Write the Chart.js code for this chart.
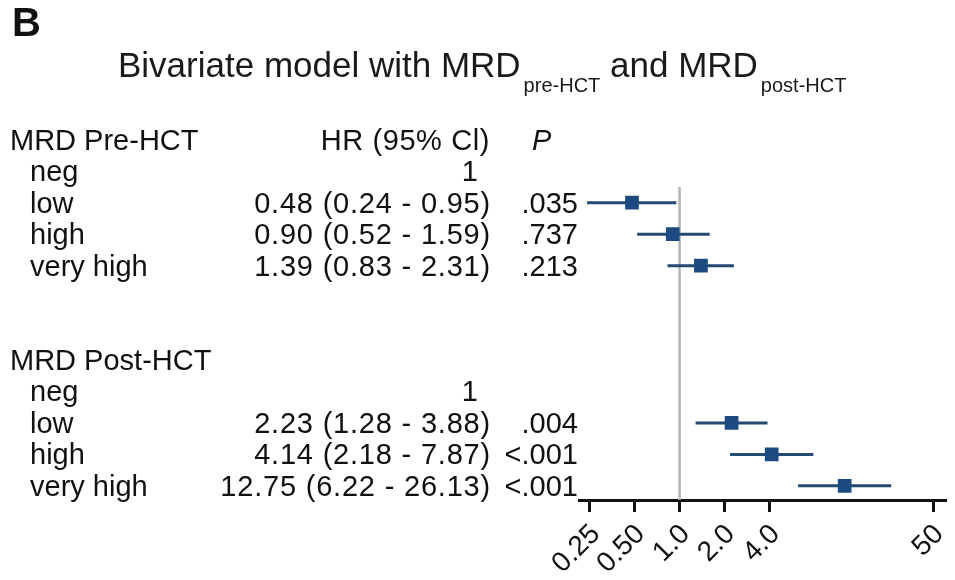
<!DOCTYPE html>
<html>
<head>
<meta charset="utf-8">
<script src="https://cdn.jsdelivr.net/npm/chart.js@4"></script>
<style>
  html, body { margin: 0; padding: 0; background: #ffffff; }
  #wrap { width: 955px; height: 580px; }
</style>
</head>
<body>
<div id="wrap"><canvas id="c" width="955" height="580"></canvas></div>
<script>
// Forest plot: bivariate Cox model with MRD before and after HCT
const groupNames = ['MRD Pre-HCT', 'MRD Post-HCT'];
const levels = ['neg', 'low', 'high', 'very high'];

const preHR = [1, 0.48, 0.90, 1.39];
const preLow = [null, 0.24, 0.52, 0.83];
const preHigh = [null, 0.95, 1.59, 2.31];
const preP = ['', '.035', '.737', '.213'];

const postHR = [1, 2.23, 4.14, 12.75];
const postLow = [null, 1.28, 2.18, 6.22];
const postHigh = [null, 3.88, 7.87, 26.13];
const postP = ['', '.004', '<.001', '<.001'];

const tickValues = [0.25, 0.5, 1, 2, 4, 50];
const tickLabels = ['0.25', '0.50', '1.0', '2.0', '4.0', '50'];

const FONT = '"Liberation Sans", Arial, Helvetica, sans-serif';
const MARK = '#1b4b80';
const WHISKER = '#22496f';

// Table rows: group header then one row per level; blank rows between groups
const groups = [
  { name: groupNames[0], start: 0, hr: preHR, lo: preLow, hi: preHigh, p: preP },
  { name: groupNames[1], start: 7, hr: postHR, lo: postLow, hi: postHigh, p: postP }
];

const whiskerSets = [];
const points = [];
groups.forEach(g => {
  levels.forEach((lv, i) => {
    const row = g.start + 1 + i;
    if (g.lo[i] !== null) {
      whiskerSets.push({
        type: 'line',
        data: [{ x: g.lo[i], y: row }, { x: g.hi[i], y: row }],
        borderColor: WHISKER,
        borderWidth: 3,
        pointRadius: 0,
        order: 2
      });
      points.push({ x: g.hr[i], y: row });
    }
  });
});

const Y_MIN = 1.5, Y_MAX = 11.45;

const tablePlugin = {
  id: 'forestTable',
  afterDraw(chart) {
    const ctx = chart.ctx;
    const y = chart.scales.y;
    ctx.save();
    ctx.fillStyle = '#111';

    // panel letter
    ctx.font = 'bold 40px ' + FONT;
    ctx.textAlign = 'left';
    ctx.textBaseline = 'alphabetic';
    ctx.fillText('B', 12, 36);

    // title with subscripts
    let x = 118;
    const base = 77, subBase = 92;
    ctx.fillStyle = '#1a1a1a';
    ctx.font = '35px ' + FONT;
    const t1 = 'Bivariate model with MRD';
    ctx.fillText(t1, x, base);
    x += ctx.measureText(t1).width + 3;
    ctx.font = '20px ' + FONT;
    ctx.fillText('pre-HCT', x, subBase);
    x += ctx.measureText('pre-HCT').width;
    ctx.font = '35px ' + FONT;
    x += ctx.measureText(' ').width;
    const t2 = 'and MRD';
    ctx.fillText(t2, x, base);
    x += ctx.measureText(t2).width + 3;
    ctx.font = '20px ' + FONT;
    ctx.fillText('post-HCT', x, subBase);

    // table
    const rowY = r => y.getPixelForValue(r) + 10;
    ctx.fillStyle = '#111';
    ctx.font = '29px ' + FONT;

    // column headers on first group row
    ctx.textAlign = 'right';
    ctx.letterSpacing = '0.6px';
    ctx.fillText('HR (95% Cl)', 490, rowY(0));
    ctx.letterSpacing = '0px';
    ctx.textAlign = 'left';
    ctx.font = 'italic 29px ' + FONT;
    ctx.fillText('P', 532, rowY(0));
    ctx.font = '29px ' + FONT;

    groups.forEach(g => {
      ctx.textAlign = 'left';
      ctx.fillText(g.name, 10, rowY(g.start));
      levels.forEach((lv, i) => {
        const r = g.start + 1 + i;
        ctx.textAlign = 'left';
        ctx.fillText(lv, 30, rowY(r));
        ctx.textAlign = 'right';
        if (g.lo[i] === null) {
          ctx.fillText(String(g.hr[i]), 478, rowY(r));
        } else {
          const s = g.hr[i].toFixed(2) + ' (' + g.lo[i].toFixed(2) + ' - ' + g.hi[i].toFixed(2) + ')';
          ctx.letterSpacing = '0.8px';
          ctx.fillText(s, 491, rowY(r));
          ctx.letterSpacing = '0px';
          ctx.fillText(g.p[i], 578, rowY(r));
        }
      });
    });
    ctx.restore();
  }
};

new Chart(document.getElementById('c'), {
  type: 'scatter',
  data: {
    datasets: [
      {
        type: 'line',
        data: [{ x: 1, y: Y_MIN }, { x: 1, y: Y_MAX }],
        borderColor: '#b4b4b4',
        borderWidth: 2.5,
        pointRadius: 0,
        order: 3
      },
      ...whiskerSets,
      {
        type: 'scatter',
        data: points,
        pointStyle: 'rect',
        pointRadius: 9.7,
        pointHoverRadius: 9.7,
        backgroundColor: MARK,
        borderColor: MARK,
        borderWidth: 0,
        order: 1
      }
    ]
  },
  options: {
    responsive: false,
    devicePixelRatio: 1,
    animation: false,
    layout: { padding: { left: 579, right: 9, top: 187, bottom: 0 } },
    plugins: {
      legend: { display: false },
      tooltip: { enabled: false },
      title: { display: false }
    },
    scales: {
      x: {
        type: 'logarithmic',
        position: 'bottom',
        min: 0.212,
        max: 60.2,
        afterBuildTicks: scale => { scale.ticks = tickValues.map(v => ({ value: v })); },
        afterFit: scale => {
          scale.height = 80;
          scale.paddingLeft = 0;
          scale.paddingRight = 0;
        },
        border: { display: true, color: '#111', width: 3 },
        grid: {
          drawOnChartArea: false,
          drawTicks: true,
          tickLength: 12,
          color: '#111',
          lineWidth: 3
        },
        ticks: {
          autoSkip: false,
          minRotation: 45,
          maxRotation: 45,
          padding: 6,
          labelOffset: 6,
          color: '#111',
          font: { family: FONT, size: 28 },
          callback: (v, i) => tickLabels[i]
        }
      },
      y: {
        type: 'linear',
        display: false,
        reverse: true,
        min: Y_MIN,
        max: Y_MAX
      }
    }
  },
  plugins: [tablePlugin]
});
</script>
</body>
</html>
